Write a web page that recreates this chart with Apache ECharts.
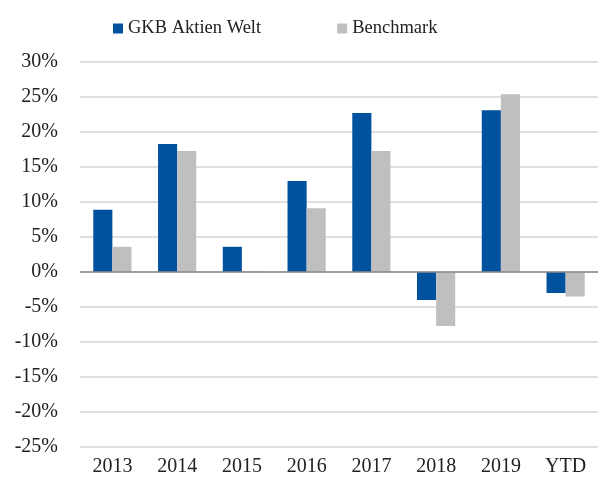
<!DOCTYPE html>
<html>
<head>
<meta charset="utf-8">
<script src="https://cdn.jsdelivr.net/npm/echarts@6/dist/echarts.min.js"></script>
<style>
  html, body { margin: 0; padding: 0; background: #fff; }
  #chart { width: 598px; height: 484px; }
</style>
</head>
<body>
<div id="chart"></div>
<script>
// data (percent)
const categories = ['2013', '2014', '2015', '2016', '2017', '2018', '2019', 'YTD'];
const fundValues = [8.9, 18.3, 3.6, 13.0, 22.7, -4.0, 23.1, -3.0];
const benchValues = [3.6, 17.3, 0.1, 9.1, 17.3, -7.7, 25.4, -3.5];
const seriesNames = ['GKB Aktien Welt', 'Benchmark'];

const fontFam = '"Liberation Serif", "DejaVu Serif", serif';

const chart = echarts.init(document.getElementById('chart'));
const option = {
    animation: false,
    textStyle: { fontFamily: fontFam },
    legend: {
        left: 108,
        top: 14,
        itemWidth: 10,
        itemHeight: 10,
        itemGap: 76,
        icon: 'rect',
        textStyle: { fontFamily: fontFam, fontSize: 18.5, color: '#222' },
        data: seriesNames
    },
    grid: {
        left: 80,
        right: 0,
        top: 62,
        bottom: 37,
        containLabel: false
    },
    xAxis: {
        type: 'category',
        data: categories,
        axisLine: { show: false },
        axisTick: { show: false },
        axisLabel: {
            fontFamily: fontFam,
            fontSize: 20,
            color: '#222',
            margin: 10
        }
    },
    yAxis: {
        type: 'value',
        min: -25,
        max: 30,
        interval: 5,
        axisLine: { show: false },
        axisTick: { show: false },
        axisLabel: {
            fontFamily: fontFam,
            fontSize: 20,
            color: '#222',
            margin: 22,
            formatter: v => v + '%'
        },
        splitLine: { lineStyle: { color: '#d4d4d4', width: 1.5 } }
    },
    series: [
        {
            name: seriesNames[0],
            type: 'bar',
            data: fundValues,
            barGap: '0%',
            barCategoryGap: '41%',
            itemStyle: { color: '#00529f' },
            markLine: {
                silent: true,
                symbol: 'none',
                label: { show: false },
                lineStyle: { color: '#888', type: 'solid', width: 1.5 },
                data: [{ yAxis: 0 }]
            }
        },
        {
            name: seriesNames[1],
            type: 'bar',
            data: benchValues,
            itemStyle: { color: '#bfbfbf' }
        }
    ]
};
chart.setOption(option);
</script>
</body>
</html>
